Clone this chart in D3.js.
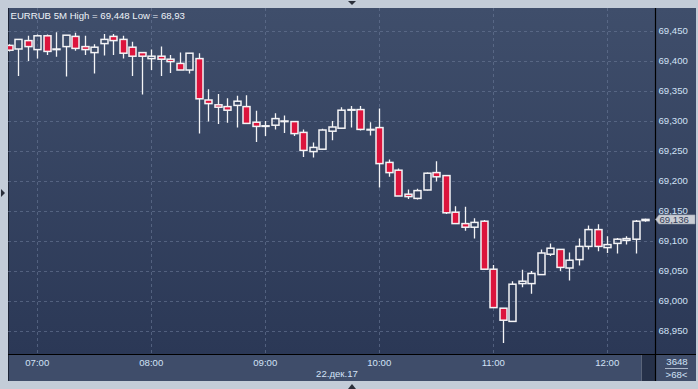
<!DOCTYPE html>
<html>
<head>
<meta charset="utf-8">
<script src="https://cdn.jsdelivr.net/npm/d3@7"></script>
<style>
  html, body { margin: 0; padding: 0; background: #c3ccd8; }
  svg { display: block; font-family: "Liberation Sans", Arial, sans-serif; }
</style>
</head>
<body>
<div id="chart"></div>
<script>
// EURRUB 5M candles, 22.12.17
const times = [
  "06:45","06:50","06:55","07:00","07:05","07:10","07:15","07:20","07:25","07:30","07:35","07:40",
  "07:45","07:50","07:55","08:00","08:05","08:10","08:15","08:20","08:25","08:30","08:35","08:40",
  "08:45","08:50","08:55","09:00","09:05","09:10","09:15","09:20","09:25","09:30","09:35","09:40",
  "09:45","09:50","09:55","10:00","10:05","10:10","10:15","10:20","10:25","10:30","10:35","10:40",
  "10:45","10:50","10:55","11:00","11:05","11:10","11:15","11:20","11:25","11:30","11:35","11:40",
  "11:45","11:50","11:55","12:00","12:05","12:10","12:15","12:20"
];
const opens = [
  69.426, 69.420, 69.434, 69.419, 69.442, 69.419, 69.424, 69.441, 69.424, 69.414, 69.429, 69.441,
  69.436, 69.423, 69.414, 69.404, 69.408, 69.403, 69.396, 69.385, 69.404, 69.335, 69.327, 69.324,
  69.326, 69.324, 69.298, 69.291, 69.293, 69.299, 69.299, 69.281, 69.249, 69.253, 69.283, 69.288,
  69.318, 69.319, 69.285, 69.289, 69.231, 69.218, 69.178, 69.171, 69.185, 69.214, 69.209, 69.148,
  69.129, 69.123, 69.133, 69.053, 68.988, 68.966, 69.029, 69.029, 69.044, 69.078, 69.086, 69.055,
  69.069, 69.091, 69.119, 69.089, 69.096, 69.101, 69.103, 69.134
];
const highs = [
  69.428, 69.436, 69.442, 69.444, 69.444, 69.448, 69.443, 69.447, 69.442, 69.428, 69.445, 69.445,
  69.442, 69.432, 69.414, 69.419, 69.424, 69.410, 69.414, 69.413, 69.413, 69.353, 69.345, 69.338,
  69.342, 69.343, 69.317, 69.300, 69.313, 69.309, 69.299, 69.286, 69.264, 69.287, 69.300, 69.323,
  69.325, 69.325, 69.298, 69.321, 69.236, 69.221, 69.186, 69.187, 69.214, 69.233, 69.209, 69.158,
  69.157, 69.138, 69.135, 69.060, 68.988, 69.033, 69.052, 69.050, 69.086, 69.096, 69.086, 69.081,
  69.104, 69.126, 69.128, 69.108, 69.105, 69.108, 69.135, 69.137
];
const lows = [
  69.416, 69.375, 69.400, 69.404, 69.410, 69.407, 69.374, 69.417, 69.410, 69.379, 69.409, 69.410,
  69.404, 69.375, 69.344, 69.385, 69.375, 69.380, 69.385, 69.379, 69.279, 69.299, 69.295, 69.297,
  69.289, 69.296, 69.265, 69.275, 69.286, 69.280, 69.275, 69.240, 69.239, 69.252, 69.268, 69.287,
  69.289, 69.284, 69.276, 69.189, 69.207, 69.175, 69.170, 69.169, 69.184, 69.199, 69.145, 69.129,
  69.117, 69.104, 69.053, 68.989, 68.930, 68.966, 69.023, 69.012, 69.044, 69.075, 69.050, 69.034,
  69.059, 69.086, 69.083, 69.080, 69.079, 69.094, 69.079, 69.132
];
const closes = [
  69.418, 69.436, 69.424, 69.442, 69.416, 69.420, 69.443, 69.421, 69.419, 69.423, 69.436, 69.434,
  69.413, 69.408, 69.408, 69.408, 69.403, 69.399, 69.385, 69.413, 69.337, 69.329, 69.323, 69.318,
  69.333, 69.296, 69.291, 69.292, 69.304, 69.300, 69.279, 69.251, 69.256, 69.285, 69.290, 69.318,
  69.319, 69.286, 69.286, 69.229, 69.214, 69.175, 69.174, 69.184, 69.213, 69.207, 69.147, 69.129,
  69.123, 69.131, 69.053, 68.989, 68.968, 69.028, 69.033, 69.046, 69.080, 69.088, 69.056, 69.068,
  69.091, 69.119, 69.091, 69.094, 69.103, 69.104, 69.133, 69.136
];
const hourTicks = ["07:00", "08:00", "09:00", "10:00", "11:00", "12:00"];
const priceTicks = [68.95, 69.00, 69.05, 69.10, 69.15, 69.20, 69.25, 69.30, 69.35, 69.40, 69.45];
const title = "EURRUB 5M High = 69,448 Low = 68,93";
const dateLabel = "22.дек.17";

const W = 698, H = 389;
const panel = { left: 8, top: 8, right: 696, bottom: 381 };
const plotRight = 655.5, plotBottom = 354.5;
const fontSize = 9.6;

const parse = d3.timeParse("%H:%M");
const data = times.map((t, i) => ({
  t: parse(t), o: opens[i], h: highs[i], l: lows[i], c: closes[i]
}));

const x = d3.scaleTime()
  .domain([parse(times[0]), parse(times[times.length - 1])])
  .range([8.8, 645.3]);
const y = d3.scaleLinear().domain([68.95, 69.45]).range([331, 31]);
const fmt = v => d3.format(".3f")(v).replace(".", ",");

const svg = d3.select("#chart").append("svg")
  .attr("width", W).attr("height", H);

const defs = svg.append("defs");
const grad = defs.append("linearGradient")
  .attr("id", "bg").attr("gradientUnits", "userSpaceOnUse")
  .attr("x1", 0).attr("y1", panel.top).attr("x2", 0).attr("y2", plotBottom);
grad.append("stop").attr("offset", 0).attr("stop-color", "#3f4e6b");
grad.append("stop").attr("offset", 1).attr("stop-color", "#2b3856");
defs.append("clipPath").attr("id", "plotClip")
  .append("rect")
  .attr("x", panel.left).attr("y", panel.top)
  .attr("width", plotRight - panel.left).attr("height", plotBottom - panel.top);

// outer frame + panels
svg.append("rect").attr("width", W).attr("height", H).attr("fill", "#c3ccd8");
svg.append("rect")
  .attr("x", panel.left).attr("y", panel.top)
  .attr("width", panel.right - panel.left).attr("height", plotBottom - panel.top)
  .attr("fill", "url(#bg)");
svg.append("rect")
  .attr("x", panel.left).attr("y", plotBottom)
  .attr("width", panel.right - panel.left).attr("height", panel.bottom - plotBottom)
  .attr("fill", "#3f4d6a");
svg.append("rect")
  .attr("x", 641).attr("y", plotBottom)
  .attr("width", plotRight - 641).attr("height", panel.bottom - plotBottom)
  .attr("fill", "#263149");
svg.append("line")
  .attr("x1", 641.5).attr("x2", 641.5).attr("y1", plotBottom).attr("y2", panel.bottom)
  .attr("stroke", "#5a6479");
svg.append("line")
  .attr("x1", panel.left + 0.5).attr("x2", panel.left + 0.5)
  .attr("y1", panel.top).attr("y2", panel.bottom)
  .attr("stroke", "#1c2436");

// grid
const grid = svg.append("g")
  .attr("stroke", "#6a7a98").attr("stroke-opacity", 0.6)
  .attr("stroke-dasharray", "3,3");
grid.selectAll(".hg")
  .data(priceTicks)
  .join("line")
  .attr("x1", panel.left).attr("x2", plotRight)
  .attr("y1", d => Math.round(y(d)) + 0.5).attr("y2", d => Math.round(y(d)) + 0.5);
grid.selectAll(".vg")
  .data(hourTicks)
  .join("line")
  .attr("x1", d => Math.round(x(parse(d))) + 0.5).attr("x2", d => Math.round(x(parse(d))) + 0.5)
  .attr("y1", panel.top).attr("y2", plotBottom);

// candles
const plot = svg.append("g").attr("clip-path", "url(#plotClip)");
const cx = d => Math.round(x(d.t)) + 0.5;

plot.selectAll(".wick-hi")
  .data(data)
  .join("line")
  .attr("x1", cx).attr("x2", cx)
  .attr("y1", d => y(d.h)).attr("y2", d => y(Math.max(d.o, d.c)))
  .attr("stroke", "#f4f4f6").attr("stroke-width", 1.3);
plot.selectAll(".wick-lo")
  .data(data)
  .join("line")
  .attr("x1", cx).attr("x2", cx)
  .attr("y1", d => y(Math.min(d.o, d.c))).attr("y2", d => y(d.l))
  .attr("stroke", "#f4f4f6").attr("stroke-width", 1.3);
plot.selectAll(".body")
  .data(data)
  .join("rect")
  .attr("x", d => cx(d) - 3.5)
  .attr("width", 7)
  .attr("y", d => y(Math.max(d.o, d.c)))
  .attr("height", d => Math.max(Math.abs(y(d.o) - y(d.c)), 0.6))
  .attr("fill", d => d.c < d.o ? "#dc143c" : "none")
  .attr("stroke", "#f4f4f6").attr("stroke-width", 1.5);

// axis separators
svg.append("line")
  .attr("x1", plotRight).attr("x2", plotRight).attr("y1", panel.top).attr("y2", panel.bottom)
  .attr("stroke", "#000").attr("stroke-width", 1.2);
svg.append("line")
  .attr("x1", panel.left).attr("x2", panel.right).attr("y1", plotBottom).attr("y2", plotBottom)
  .attr("stroke", "#000").attr("stroke-width", 1.2);

// price axis
svg.selectAll(".ylab")
  .data(priceTicks)
  .join("text")
  .attr("x", 658.5)
  .attr("y", d => y(d) + 3.4)
  .attr("font-size", fontSize)
  .attr("fill", "#d2e2f6")
  .text(fmt);

// last price marker
const last = data[data.length - 1];
const ly = y(last.c);
svg.append("path")
  .attr("d", `M655.5,${ly} L659,${ly - 4.5} L695,${ly - 4.5} L695,${ly + 4.5} L659,${ly + 4.5} Z`)
  .attr("fill", "#c9cdd4").attr("stroke", "#9aa2ae").attr("stroke-width", 0.6);
svg.append("text")
  .attr("x", 659.5).attr("y", ly + 3.5)
  .attr("font-size", fontSize).attr("fill", "#34405a")
  .text(fmt(last.c));

// time axis
svg.selectAll(".xlab")
  .data(hourTicks)
  .join("text")
  .attr("x", d => x(parse(d)))
  .attr("y", 366)
  .attr("text-anchor", "middle")
  .attr("font-size", fontSize)
  .attr("fill", "#d2e2f6")
  .text(d => d);
svg.append("text")
  .attr("x", 337).attr("y", 376.5)
  .attr("text-anchor", "middle")
  .attr("font-size", fontSize).attr("fill", "#d2e2f6")
  .text(dateLabel);

// corner cell
svg.append("text")
  .attr("x", 677).attr("y", 365).attr("text-anchor", "middle")
  .attr("font-size", fontSize).attr("fill", "#d2e2f6").text("3648");
svg.append("line")
  .attr("x1", 665).attr("x2", 688).attr("y1", 368.5).attr("y2", 368.5)
  .attr("stroke", "#aab6c8");
svg.append("text")
  .attr("x", 676.5).attr("y", 377.5).attr("text-anchor", "middle")
  .attr("font-size", fontSize).attr("fill", "#d2e2f6").text(">68<");

// title
svg.append("text")
  .attr("x", 10.5).attr("y", 18.5)
  .attr("font-size", fontSize).attr("fill", "#eef2f8")
  .text(title);

// frame arrows
svg.append("path").attr("d", "M348,1 L356,1 L352,5 Z").attr("fill", "#2a2f3a");
svg.append("path").attr("d", "M1,189 L1,197 L5,193 Z").attr("fill", "#2a2f3a");
svg.append("path").attr("d", "M348,389 L356,389 L352,384 Z").attr("fill", "#2a2f3a");
</script>
</body>
</html>
